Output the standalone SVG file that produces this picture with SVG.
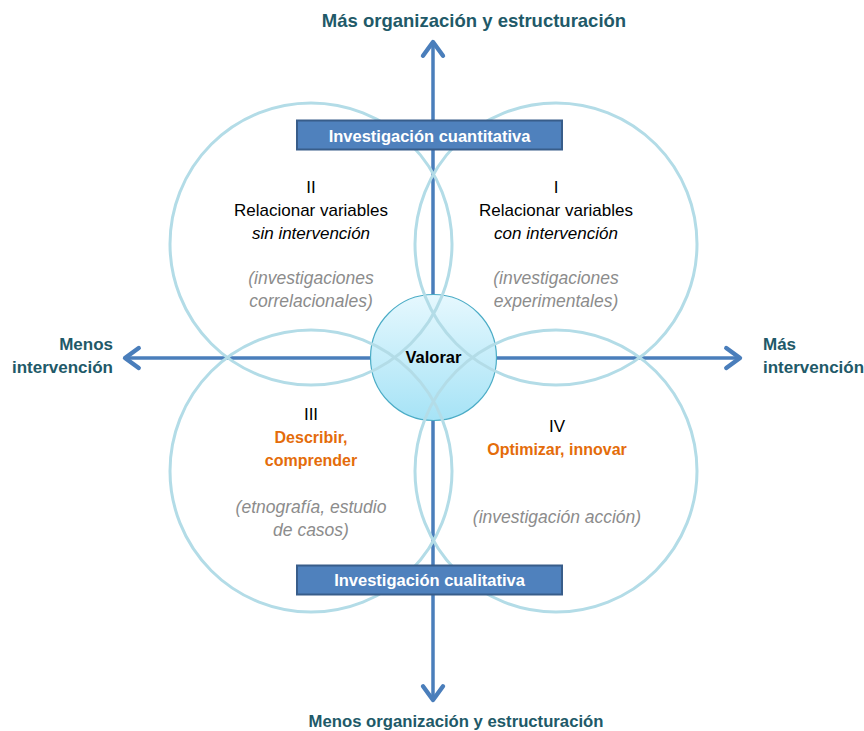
<svg xmlns="http://www.w3.org/2000/svg" width="864" height="731" viewBox="0 0 864 731">
  <defs>
    <marker id="open-arrow" markerUnits="userSpaceOnUse" markerWidth="30" markerHeight="30" viewBox="-16 -12 20 24" refX="0" refY="0" orient="auto">
      <path d="M -11,-8 L 0,0 L -11,8" fill="none" stroke="#4A7EBB" stroke-width="3.5" stroke-linecap="round" stroke-linejoin="round"/>
    </marker>
    <linearGradient id="valorar-fill" x1="0" y1="0" x2="0" y2="1">
      <stop offset="0" stop-color="#E6F8FE"/>
      <stop offset="1" stop-color="#A6E3F6"/>
    </linearGradient>
  </defs>
  <style>
    .axis { stroke: #4A7EBB; stroke-width: 3.5; fill: none; }
    .ring { fill: none; stroke: #B3DCE7; stroke-width: 3; }
    .box { fill: #4F81BD; stroke: #385D8A; stroke-width: 2; }
    .box-text { font-family: "Liberation Sans", Arial, sans-serif; font-weight: bold; font-size: 16.5px; fill: #FFFFFF; text-anchor: middle; }
    .dir { font-family: "Liberation Sans", Arial, sans-serif; font-weight: bold; font-size: 17px; fill: #215968; }
    .dir-top { font-size: 18.5px; }
    .dir-bottom { font-size: 16.7px; }
    .q { font-family: "Liberation Sans", Arial, sans-serif; font-size: 17px; fill: #000000; text-anchor: middle; }
    .qi { font-style: italic; }
    .note { font-family: "Liberation Sans", Arial, sans-serif; font-style: italic; font-size: 17.5px; fill: #8C8C8C; text-anchor: middle; }
    .act { font-family: "Liberation Sans", Arial, sans-serif; font-weight: bold; font-size: 16px; fill: #E46C0A; text-anchor: middle; }
  </style>

  <!-- axes -->
  <g id="connectors">
    <line class="axis" x1="433" y1="358" x2="433" y2="42" marker-end="url(#open-arrow)"/>
    <line class="axis" x1="433" y1="358" x2="433" y2="700" marker-end="url(#open-arrow)"/>
    <line class="axis" x1="433" y1="358" x2="125" y2="358" marker-end="url(#open-arrow)"/>
    <line class="axis" x1="433" y1="358" x2="740" y2="358" marker-end="url(#open-arrow)"/>
  </g>

  <!-- centre -->
  <g id="valorar">
    <circle cx="433.5" cy="357.5" r="63" fill="url(#valorar-fill)" stroke="#4BACC6" stroke-width="1.2"/>
    <text x="433.5" y="363" font-family="'Liberation Sans', Arial, sans-serif" font-weight="bold" font-size="16.5" fill="#000000" text-anchor="middle">Valorar</text>
  </g>

  <!-- four overlapping rings -->
  <g id="rings">
    <circle class="ring" cx="311" cy="244" r="141"/>
    <circle class="ring" cx="556" cy="244" r="141"/>
    <circle class="ring" cx="311" cy="471" r="141"/>
    <circle class="ring" cx="556" cy="471" r="141"/>
  </g>

  <g id="box-cuantitativa">
    <rect class="box" x="297" y="120.5" width="265" height="29"/>
    <text class="box-text" x="429.5" y="141.5">Investigación cuantitativa</text>
  </g>
  <g id="box-cualitativa">
    <rect class="box" x="297" y="565.5" width="265" height="29"/>
    <text class="box-text" x="429.5" y="586">Investigación cualitativa</text>
  </g>

  <!-- axis labels -->
  <g id="label-top">
    <text class="dir dir-top" x="474" y="27" text-anchor="middle">Más organización y estructuración</text>
  </g>
  <g id="label-bottom">
    <text class="dir dir-bottom" x="456" y="727" text-anchor="middle">Menos organización y estructuración</text>
  </g>
  <g id="label-left">
    <text class="dir" x="113" y="350" text-anchor="end">Menos</text>
    <text class="dir" x="113" y="373" text-anchor="end">intervención</text>
  </g>
  <g id="label-right">
    <text class="dir" x="763" y="350">Más</text>
    <text class="dir" x="763" y="373">intervención</text>
  </g>

  <!-- quadrants -->
  <g id="quadrant-II">
    <text class="q" x="311" y="193">II</text>
    <text class="q" x="311" y="216">Relacionar variables</text>
    <text class="q qi" x="311" y="239">sin intervención</text>
    <text class="note" x="311" y="284">(investigaciones</text>
    <text class="note" x="311" y="307">correlacionales)</text>
  </g>
  <g id="quadrant-I">
    <text class="q" x="556" y="193">I</text>
    <text class="q" x="556" y="216">Relacionar variables</text>
    <text class="q qi" x="556" y="239">con intervención</text>
    <text class="note" x="556" y="284">(investigaciones</text>
    <text class="note" x="556" y="307">experimentales)</text>
  </g>
  <g id="quadrant-III">
    <text class="q" x="311" y="420">III</text>
    <text class="act" x="311" y="443">Describir,</text>
    <text class="act" x="311" y="466">comprender</text>
    <text class="note" x="311" y="513">(etnografía, estudio</text>
    <text class="note" x="311" y="536">de casos)</text>
  </g>
  <g id="quadrant-IV">
    <text class="q" x="557" y="432">IV</text>
    <text class="act" x="557" y="455">Optimizar, innovar</text>
    <text class="note" x="557" y="523">(investigación acción)</text>
  </g>
</svg>
